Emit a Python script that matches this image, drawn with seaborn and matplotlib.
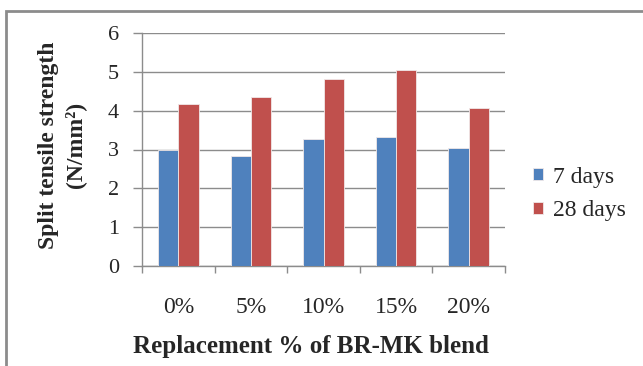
import matplotlib
matplotlib.use("Agg")
import matplotlib.pyplot as plt
import seaborn as sns
import pandas as pd
from matplotlib.patches import Rectangle

categories = ["0%", "5%", "10%", "15%", "20%"]
days_7 = [3.00, 2.83, 3.27, 3.33, 3.05]
days_28 = [4.17, 4.35, 4.82, 5.04, 4.06]
series_names = ["7 days", "28 days"]
y_ticks = [0, 1, 2, 3, 4, 5, 6]

df = pd.DataFrame({
    "cat": categories * 2,
    "value": days_7 + days_28,
    "series": [series_names[0]] * len(categories) + [series_names[1]] * len(categories),
})

sns.set_theme(style="white")
plt.rcParams["font.family"] = ["Liberation Serif", "DejaVu Serif"]

W, H = 643, 366
fig = plt.figure(figsize=(W / 100, H / 100), dpi=100)
ax = fig.add_axes([142 / W, (H - 266) / H, (505 - 142) / W, (266 - 33) / H])

palette = {"7 days": "#4F81BD", "28 days": "#C0504D"}
sns.barplot(data=df, x="cat", y="value", hue="series", order=categories,
            hue_order=series_names, palette=palette, width=0.56, gap=0,
            saturation=1, edgecolor="#f0e8e8", linewidth=0.6, ax=ax, zorder=3)

ax.set_ylim(0, 6)
ax.set_xlim(-0.5, len(categories) - 0.5)
ax.set_yticks(y_ticks)
ax.set_yticklabels([str(t) for t in y_ticks], fontsize=16)
ax.grid(axis="y", color="#8c8c8c", linewidth=1.0, zorder=0)
ax.set_axisbelow(True)

# category labels at centres, tick marks at category boundaries
ax.set_xticks(range(len(categories)))
ax.set_xticklabels(categories, fontsize=17)
ax.tick_params(axis="x", which="major", length=0, pad=22)
ax.set_xticks([i - 0.5 for i in range(len(categories) + 1)], minor=True)
ax.tick_params(axis="x", which="minor", length=5, width=1.0, color="#8c8c8c",
               direction="out", bottom=True)
ax.tick_params(axis="y", which="major", length=6.5, width=1.0, color="#8c8c8c",
               direction="out", left=True, pad=10)

for side in ["top", "right"]:
    ax.spines[side].set_visible(False)
for side in ["left", "bottom"]:
    ax.spines[side].set_color("#8c8c8c")
    ax.spines[side].set_linewidth(1.0)

ax.set_xlabel("")
ax.set_ylabel("")
fig.text(311 / W, (H - 346) / H, "Replacement % of BR-MK blend", fontsize=18,
         fontweight="bold", ha="center", va="center")
fig.text(49 / W, (H - 145) / H, "Split tensile strength", fontsize=17,
         fontweight="bold", rotation=90, ha="center", va="center")
fig.text(75 / W, (H - 145) / H, "(N/mm²)", fontsize=17,
         fontweight="bold", rotation=90, ha="center", va="center")

ax.legend(loc="center left", bbox_to_anchor=((521 - 142) / (505 - 142), (266 - 194) / (266 - 33)),
          frameon=False, fontsize=17, handlelength=0.45, handleheight=0.45,
          handletextpad=0.4, labelspacing=0.55, borderpad=0)

# chart area border
fig.patches.append(Rectangle((6 / W, -0.05), 1.2, (H - 11) / H + 0.05,
                             transform=fig.transFigure, fill=False,
                             edgecolor="#8c8c8c", linewidth=2.0))

fig.savefig("out.png", dpi=100)
